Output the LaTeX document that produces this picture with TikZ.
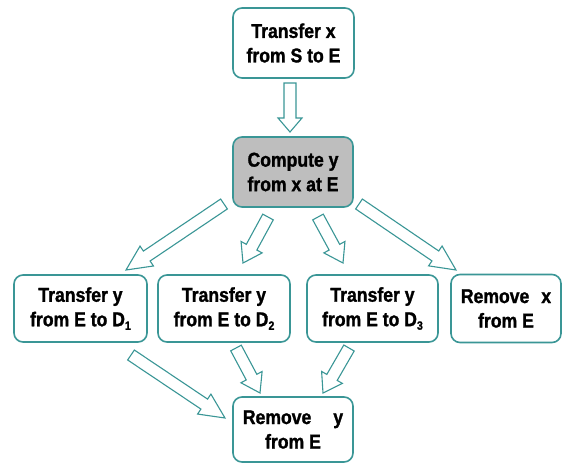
\documentclass[tikz,border=0pt]{standalone}
\usepackage{fontspec}
\setmainfont{Liberation Sans}[FakeStretch=0.88, BoldFeatures={FakeBold=1.3}]
\usetikzlibrary{calc}
\definecolor{teal}{RGB}{58,150,150}
\definecolor{boxgray}{RGB}{190,190,190}
\tikzset{
  stepbox/.style={draw=teal, line width=1.6pt, rounded corners=9pt, fill=white,
    align=center, inner sep=0pt,
    font=\bfseries\fontsize{20}{24.5}\selectfont},
  flowarrow/.style={draw=teal, line width=1.1pt, line join=miter, fill=white},
}
% hollow block arrow: optional head length, tail, tip
\newcommand\blockarrow[3][16pt]{%
  \coordinate (hb) at ($(#3)!#1!(#2)$);
  \draw[flowarrow] ($(#2)!6pt!90:(#3)$) -- ($(hb)!6pt!-90:(#2)$)
    -- ($(hb)!12pt!-90:(#2)$) -- (#3) -- ($(hb)!12pt!90:(#2)$)
    -- ($(hb)!6pt!90:(#2)$) -- ($(#2)!6pt!-90:(#3)$) -- cycle;}
\newcommand\sub[1]{\raisebox{-3.5pt}{\fontsize{12}{12}\selectfont #1}}
\begin{document}
\begin{tikzpicture}[x=1pt,y=-1pt]
\useasboundingbox (0,0) rectangle (565,466);
% boxes
\node[stepbox, minimum width=121pt, minimum height=70pt] (s) at (293.5,43) {Transfer x\\from S to E};
\node[stepbox, minimum width=120pt, minimum height=70pt, fill=boxgray] (c) at (293,172) {Compute y\\from x at E};
\node[stepbox, minimum width=133pt, minimum height=67pt] (d1) at (80.5,308.5) {Transfer y\\from E to D\sub{1}};
\node[stepbox, minimum width=132pt, minimum height=67pt] (d2) at (224,308.5) {Transfer y\\from E to D\sub{2}};
\node[stepbox, minimum width=131pt, minimum height=67pt] (d3) at (372.5,308.5) {Transfer y\\from E to D\sub{3}};
\node[stepbox, minimum width=110pt, minimum height=68pt] (rx) at (506,308.5) {Remove\hspace{0.6em}x\\from E};
\node[stepbox, minimum width=120pt, minimum height=65pt] (ry) at (293,429.5) {Remove\hspace{1.1em}y\\from E};
% arrow ends
\coordinate (a0t) at (290,83);   \coordinate (a0h) at (290,132);
\coordinate (a1t) at (224,204);  \coordinate (a1h) at (126,270);
\coordinate (a2t) at (268,217);  \coordinate (a2h) at (243,263);
\coordinate (a3t) at (318,217);  \coordinate (a3h) at (343,263);
\coordinate (a4t) at (359,204);  \coordinate (a4h) at (456,270);
\coordinate (b1t) at (131,355);  \coordinate (b1h) at (225,418);
\coordinate (b2t) at (236,348);  \coordinate (b2h) at (260,393);
\coordinate (b3t) at (349,348);  \coordinate (b3h) at (323,393);
% arrows
\blockarrow[14pt]{a0t}{a0h}
\blockarrow[25pt]{a1t}{a1h}
\blockarrow[18pt]{a2t}{a2h}
\blockarrow[18pt]{a3t}{a3h}
\blockarrow[25pt]{a4t}{a4h}
\blockarrow[25pt]{b1t}{b1h}
\blockarrow[18pt]{b2t}{b2h}
\blockarrow[18pt]{b3t}{b3h}
\end{tikzpicture}
\end{document}
